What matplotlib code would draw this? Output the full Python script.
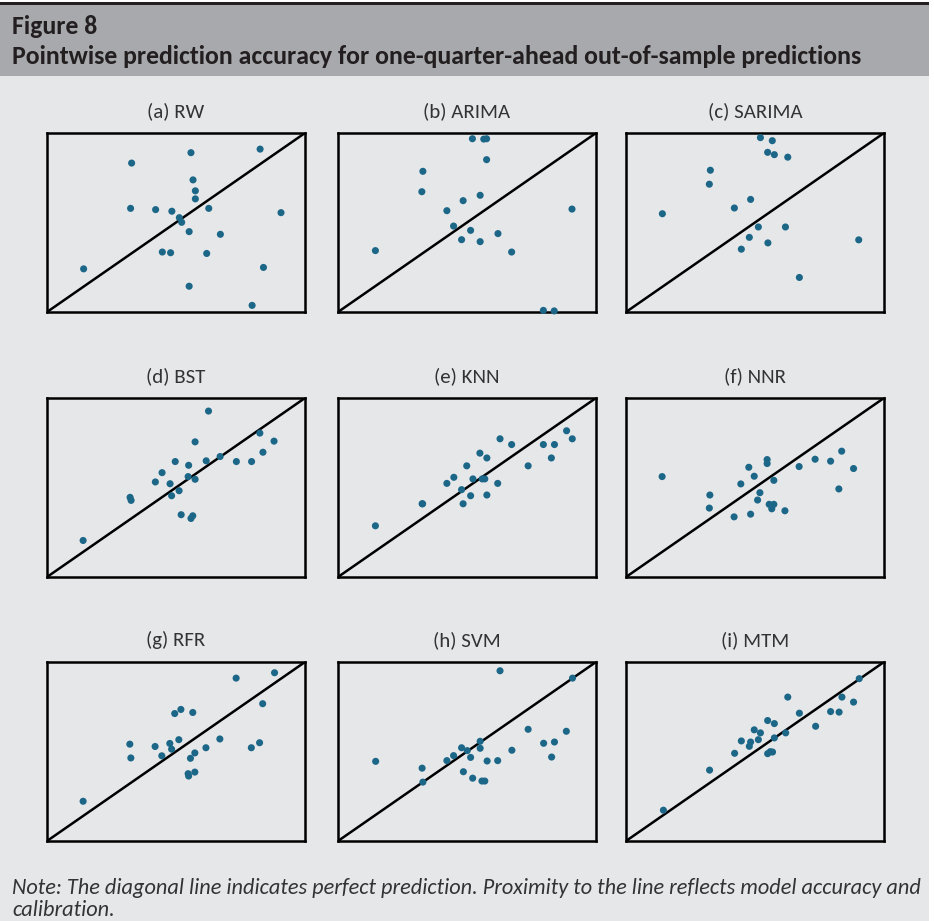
import matplotlib
matplotlib.use("Agg")
import matplotlib.pyplot as plt
from matplotlib.patches import Rectangle

# ---------------- data (normalised actual vs predicted, 0..1) ----------------
panel_titles = ["(a) RW", "(b) ARIMA", "(c) SARIMA",
                "(d) BST", "(e) KNN", "(f) NNR",
                "(g) RFR", "(h) SVM", "(i) MTM"]

rw_x = [0.328, 0.558, 0.826, 0.566, 0.575, 0.575, 0.324, 0.421, 0.484, 0.627, 0.907,
        0.513, 0.522, 0.551, 0.672, 0.447, 0.479, 0.619, 0.142, 0.839, 0.551, 0.795]
rw_y = [0.832, 0.890, 0.910, 0.738, 0.677, 0.632, 0.579, 0.572, 0.563, 0.579, 0.555,
        0.527, 0.501, 0.449, 0.434, 0.335, 0.331, 0.327, 0.241, 0.249, 0.144, 0.037]

arima_x = [0.521, 0.565, 0.576, 0.576, 0.329, 0.325, 0.551, 0.485, 0.422, 0.907,
           0.448, 0.514, 0.620, 0.479, 0.551, 0.145, 0.673, 0.796, 0.838]
arima_y = [0.968, 0.966, 0.968, 0.851, 0.786, 0.672, 0.652, 0.622, 0.566, 0.575,
           0.480, 0.456, 0.438, 0.404, 0.393, 0.343, 0.335, 0.009, 0.006]

sarima_x = [0.521, 0.567, 0.549, 0.575, 0.627, 0.327, 0.323, 0.483, 0.420, 0.141,
            0.513, 0.618, 0.478, 0.902, 0.550, 0.447, 0.672]
sarima_y = [0.974, 0.957, 0.892, 0.879, 0.865, 0.792, 0.714, 0.629, 0.581, 0.549,
            0.475, 0.475, 0.417, 0.403, 0.386, 0.351, 0.193]

bst_x = [0.626, 0.825, 0.880, 0.574, 0.837, 0.671, 0.617, 0.734, 0.793, 0.497, 0.549, 0.446,
         0.547, 0.574, 0.420, 0.477, 0.512, 0.483, 0.322, 0.326, 0.520, 0.565, 0.558, 0.140]
bst_y = [0.927, 0.804, 0.759, 0.755, 0.697, 0.673, 0.649, 0.645, 0.645, 0.645, 0.624, 0.583,
         0.561, 0.546, 0.531, 0.521, 0.482, 0.454, 0.445, 0.428, 0.348, 0.342, 0.327, 0.204]

knn_x = [0.886, 0.908, 0.628, 0.673, 0.796, 0.839, 0.550, 0.577, 0.827, 0.499, 0.737, 0.449,
         0.523, 0.559, 0.569, 0.422, 0.619, 0.479, 0.514, 0.577, 0.326, 0.328, 0.485, 0.145]
knn_y = [0.817, 0.772, 0.772, 0.740, 0.740, 0.740, 0.692, 0.665, 0.665, 0.621, 0.621, 0.557,
         0.548, 0.548, 0.548, 0.523, 0.523, 0.488, 0.454, 0.458, 0.409, 0.409, 0.409, 0.286]

nnr_x = [0.836, 0.733, 0.547, 0.547, 0.793, 0.476, 0.671, 0.882, 0.140, 0.497, 0.573, 0.445,
         0.825, 0.519, 0.325, 0.510, 0.555, 0.573, 0.565, 0.323, 0.616, 0.483, 0.419]
nnr_y = [0.703, 0.658, 0.656, 0.634, 0.647, 0.613, 0.617, 0.606, 0.561, 0.563, 0.540, 0.520,
         0.492, 0.471, 0.458, 0.430, 0.406, 0.406, 0.381, 0.385, 0.370, 0.351, 0.336]

rfr_x = [0.882, 0.733, 0.836, 0.519, 0.495, 0.565, 0.670, 0.511, 0.321, 0.419, 0.476, 0.483,
         0.824, 0.792, 0.616, 0.573, 0.445, 0.556, 0.325, 0.573, 0.547, 0.549, 0.140]
rfr_y = [0.940, 0.910, 0.767, 0.735, 0.712, 0.718, 0.570, 0.566, 0.541, 0.528, 0.545, 0.513,
         0.549, 0.521, 0.521, 0.492, 0.476, 0.462, 0.464, 0.385, 0.376, 0.363, 0.222]

svm_x = [0.628, 0.909, 0.737, 0.885, 0.551, 0.797, 0.839, 0.479, 0.551, 0.501, 0.674, 0.448,
         0.514, 0.828, 0.422, 0.578, 0.619, 0.146, 0.326, 0.486, 0.522, 0.558, 0.569, 0.329]
svm_y = [0.951, 0.910, 0.624, 0.613, 0.557, 0.546, 0.553, 0.521, 0.518, 0.505, 0.507, 0.477,
         0.467, 0.469, 0.449, 0.447, 0.449, 0.445, 0.407, 0.387, 0.351, 0.335, 0.335, 0.329]

mtm_x = [0.904, 0.627, 0.837, 0.882, 0.793, 0.826, 0.672, 0.549, 0.575, 0.735, 0.497, 0.521,
         0.619, 0.575, 0.513, 0.447, 0.483, 0.478, 0.421, 0.549, 0.559, 0.568, 0.324, 0.145]
mtm_y = [0.907, 0.804, 0.804, 0.776, 0.723, 0.720, 0.714, 0.673, 0.656, 0.641, 0.621, 0.604,
         0.604, 0.576, 0.566, 0.559, 0.553, 0.529, 0.490, 0.488, 0.499, 0.497, 0.396, 0.172]

series_x = [rw_x, arima_x, sarima_x, bst_x, knn_x, nnr_x, rfr_x, svm_x, mtm_x]
series_y = [rw_y, arima_y, sarima_y, bst_y, knn_y, nnr_y, rfr_y, svm_y, mtm_y]

title_text = "Figure 8"
subtitle_text = "Pointwise prediction accuracy for one-quarter-ahead out-of-sample predictions"
note_line1 = ("Note: The diagonal line indicates perfect prediction. Proximity to the line "
              "reflects model accuracy and")
note_line2 = "calibration."

# ---------------- styling ----------------
W, H = 934, 921
BG = "#e6e7e9"
HEADER = "#a7a9ac"
DOT = "#1c6788"
FONT = ["Carlito", "Open Sans", "DejaVu Sans"]
plt.rcParams["font.family"] = FONT

fig = plt.figure(figsize=(W / 100, H / 100), dpi=100)
fig.patch.set_facecolor("white")

def fx(px):
    return px / W

def fy(py):
    return 1 - py / H

# body background
fig.patches.append(Rectangle((0, 0), fx(929), fy(76), transform=fig.transFigure,
                             facecolor=BG, edgecolor="none", zorder=-10))
# header band
fig.patches.append(Rectangle((0, fy(76)), fx(929), fy(5) - fy(76), transform=fig.transFigure,
                             facecolor=HEADER, edgecolor="none", zorder=-10))
# black top rule
fig.patches.append(Rectangle((0, fy(5)), fx(929), fy(2) - fy(5), transform=fig.transFigure,
                             facecolor="#231f20", edgecolor="none", zorder=-10))

fig.text(fx(12), fy(27), title_text, fontsize=18.5, fontweight="bold", color="#231f20",
         va="center", ha="left")
fig.text(fx(12), fy(57), subtitle_text, fontsize=18.5, fontweight="bold", color="#231f20",
         va="center", ha="left")

col_left = [47, 338, 626]
row_top = [133, 398, 662]
pw, ph = 258, 179
title_offset = 22

for i in range(9):
    r, c = divmod(i, 3)
    left = col_left[c]
    top = row_top[r]
    ax = fig.add_axes([fx(left), fy(top + ph), fx(pw), ph / H])
    ax.set_facecolor(BG)
    ax.set_xlim(0, 1)
    ax.set_ylim(0, 1)
    ax.set_xticks([])
    ax.set_yticks([])
    for s in ax.spines.values():
        s.set_linewidth(1.8)
        s.set_color("black")
    ax.plot([0, 1], [0, 1], color="black", lw=1.8, solid_capstyle="butt", zorder=2)
    ax.scatter(series_x[i], series_y[i], s=26, color=DOT, edgecolors="none", zorder=3,
               clip_on=False)
    fig.text(fx(left + pw / 2), fy(top - title_offset), panel_titles[i], fontsize=15,
             color="#333333", ha="center", va="center")

fig.text(fx(12), fy(888), note_line1, fontsize=16, style="italic", color="#333333",
         ha="left", va="center")
fig.text(fx(12), fy(910), note_line2, fontsize=16, style="italic", color="#333333",
         ha="left", va="center")

fig.savefig("out.png", dpi=100, facecolor=fig.get_facecolor())
